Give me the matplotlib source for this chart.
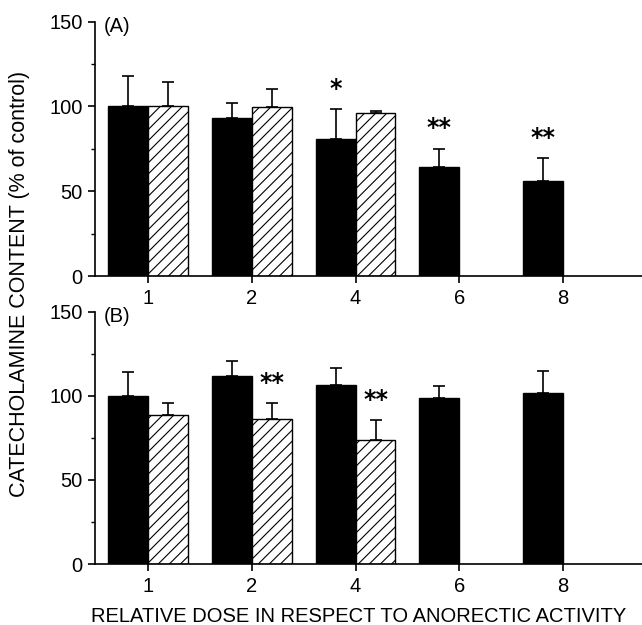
import numpy as np
import matplotlib.pyplot as plt

plt.rcParams['font.family'] = ['Liberation Sans', 'DejaVu Sans']
plt.rcParams['hatch.linewidth'] = 0.8

doses = ['1', '2', '4', '6', '8']

# panel A
a_black = [100, 93, 81, 64, 56]
a_black_err = [18, 9, 17.5, 11, 13.5]
a_hatch = [100, 99.5, 96, None, None]
a_hatch_err = [14.5, 11, 1.5, None, None]
a_black_star = ['', '', '*', '**', '**']
a_hatch_star = ['', '', '', '', '']

# panel B
b_black = [100, 111.5, 106.5, 98.5, 101.5]
b_black_err = [14, 9, 10, 7.3, 13.5]
b_hatch = [88.5, 86, 74, None, None]
b_hatch_err = [7, 9.5, 11.5, None, None]
b_black_star = ['', '', '', '', '']
b_hatch_star = ['', '**', '**', '', '']

fig = plt.figure(figsize=(6.42, 6.25), dpi=100)
axA = fig.add_axes([0.148, 0.5584, 0.852, 0.4069])
axB = fig.add_axes([0.148, 0.0976, 0.852, 0.4037])

w = 0.385
x = np.arange(len(doses))


def panel(ax, black, berr, hatch, herr, bstar, hstar, tag):
    ax.bar(x - w / 2, black, w, color='black', edgecolor='black', linewidth=1.0)
    ax.errorbar(x - w / 2, black, yerr=[np.zeros(len(black)), berr], fmt='none',
                ecolor='black', elinewidth=1.2, capsize=4, capthick=1.2)
    hx = [x[i] + w / 2 for i in range(len(hatch)) if hatch[i] is not None]
    hv = [v for v in hatch if v is not None]
    he = [v for v in herr if v is not None]
    ax.bar(hx, hv, w, color='white', edgecolor='black', hatch='///', linewidth=1.0)
    ax.errorbar(hx, hv, yerr=[np.zeros(len(hv)), he], fmt='none',
                ecolor='black', elinewidth=1.2, capsize=4, capthick=1.2)
    for i in range(len(black)):
        if bstar[i]:
            ax.text(x[i] - w / 2, black[i] + berr[i] + 12, bstar[i], ha='center', va='center',
                    fontsize=17, fontweight='bold', family='DejaVu Sans')
        if hstar[i]:
            ax.text(x[i] + w / 2, hatch[i] + herr[i] + 12, hstar[i], ha='center', va='center',
                    fontsize=17, fontweight='bold', family='DejaVu Sans')
    ax.set_xlim(-0.51, 4.76)
    ax.set_ylim(0, 150)
    ax.set_yticks([0, 50, 100, 150])
    ax.set_yticks([25, 75, 125], minor=True)
    ax.set_xticks(x)
    ax.set_xticklabels(doses)
    ax.spines['top'].set_visible(False)
    ax.spines['right'].set_visible(False)
    ax.spines['left'].set_linewidth(1.2)
    ax.spines['bottom'].set_linewidth(1.2)
    ax.tick_params(axis='both', labelsize=14.5, width=1.2, length=5, pad=4)
    ax.tick_params(axis='y', which='minor', length=3, width=1.0)
    ax.text(-0.43, 147, tag, fontsize=14.5, va='center', ha='left')


panel(axA, a_black, a_black_err, a_hatch, a_hatch_err, a_black_star, a_hatch_star, '(A)')
panel(axB, b_black, b_black_err, b_hatch, b_hatch_err, b_black_star, b_hatch_star, '(B)')

fig.text(0.031, 0.546, 'CATECHOLAMINE CONTENT (% of control)', rotation=90,
         ha='center', va='center', fontsize=15.5)
fig.text(0.559, 0.0144, 'RELATIVE DOSE IN RESPECT TO ANORECTIC ACTIVITY',
         ha='center', va='center', fontsize=14.5)

fig.savefig('out.png', dpi=100)
